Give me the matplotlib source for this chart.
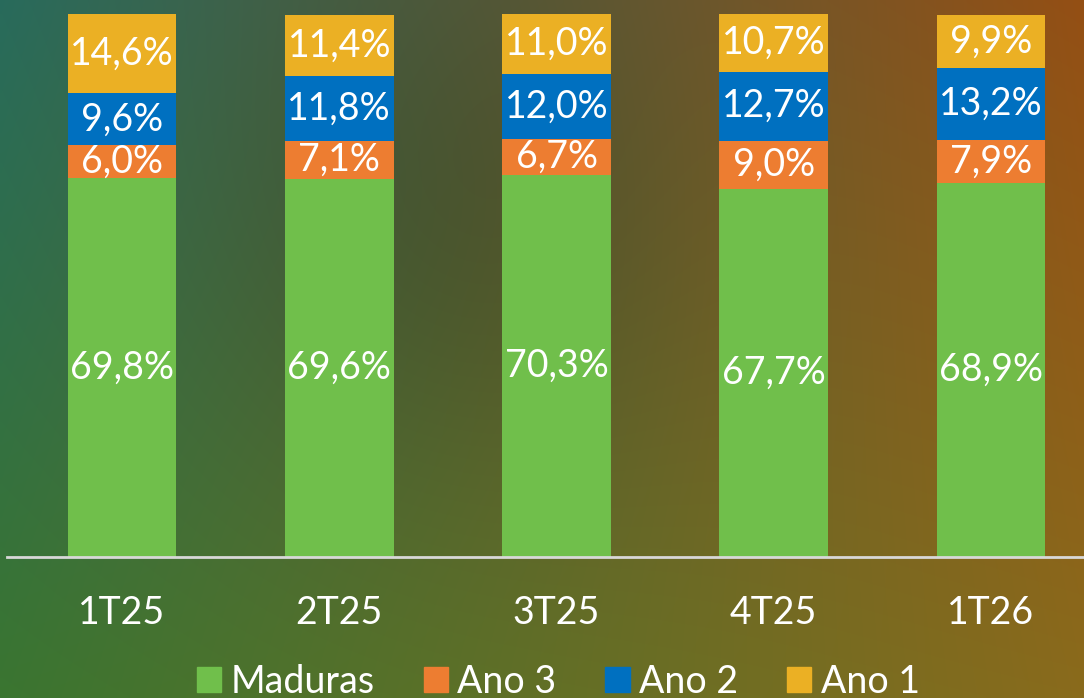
import numpy as np
import matplotlib
matplotlib.use("Agg")
import matplotlib.pyplot as plt
from matplotlib.patches import Patch

quarters = ["1T25", "2T25", "3T25", "4T25", "1T26"]
series = ["Maduras", "Ano 3", "Ano 2", "Ano 1"]
maduras = [69.8, 69.6, 70.3, 67.7, 68.9]
ano3 = [6.0, 7.1, 6.7, 9.0, 7.9]
ano2 = [9.6, 11.8, 12.0, 12.7, 13.2]
ano1 = [14.6, 11.4, 11.0, 10.7, 9.9]
colors = ["#70bf4b", "#ed7d31", "#0070c0", "#ebb024"]

plt.rcParams["font.family"] = ["Lato", "DejaVu Sans"]

fig = plt.figure(figsize=(10.84, 6.98), dpi=100)

# background gradient (teal/green on the left, brown/orange on the right)
bg = fig.add_axes([0, 0, 1, 1])
bg.set_axis_off()
h, w = 200, 300
yy, xx = np.mgrid[0:1:h * 1j, 0:1:w * 1j]
tl = np.array([0.16, 0.42, 0.36])
tr = np.array([0.58, 0.31, 0.08])
bl = np.array([0.23, 0.46, 0.19])
br = np.array([0.54, 0.42, 0.11])
img = ((1 - xx)[..., None] * (1 - yy)[..., None] * tl + xx[..., None] * (1 - yy)[..., None] * tr
       + (1 - xx)[..., None] * yy[..., None] * bl + xx[..., None] * yy[..., None] * br)
dark = 1 - 0.15 * np.exp(-((xx - 0.42) ** 2) / 0.05 - ((yy - 0.3) ** 2) / 0.15)
img = np.clip(img * dark[..., None], 0, 1)
bg.imshow(img, aspect="auto", extent=[0, 1, 0, 1], interpolation="bilinear")

ax = fig.add_axes([7 / 1084, 1 - 557 / 698, 1 - 7 / 1084, (557 - 14) / 698])
ax.patch.set_alpha(0)
x = np.arange(len(quarters))
bottom = np.zeros(len(quarters))
for name, vals, c in zip(series, [maduras, ano3, ano2, ano1], colors):
    vals = np.array(vals)
    ax.bar(x, vals, 0.5, bottom=bottom, color=c, label=name)
    for xi, b, v in zip(x, bottom, vals):
        ax.text(xi, b + v / 2, f"{v:.1f}%".replace(".", ","), ha="center", va="center",
                color="white", fontsize=27)
    bottom += vals

ax.set_xlim((7 - 122) / 217.25, (1084 - 122) / 217.25)
ax.set_ylim(0, 100)
for s in ["top", "right", "left"]:
    ax.spines[s].set_visible(False)
ax.spines["bottom"].set_color("#d8d8d8")
ax.spines["bottom"].set_linewidth(2)
ax.set_yticks([])
ax.set_xticks(x)
ax.set_xticklabels(quarters, color="white", fontsize=27)
ax.tick_params(axis="x", length=0, pad=27)

handles = [Patch(color=c) for c in colors]
fig.legend(handles, series, loc="center", bbox_to_anchor=(0.515, 1 - 682 / 698), ncol=4,
           frameon=False, fontsize=27, labelcolor="white",
           handlelength=0.65, handleheight=0.65,
           handletextpad=0.25, columnspacing=1.3, borderaxespad=0, borderpad=0)

fig.savefig("out.png", dpi=100)
